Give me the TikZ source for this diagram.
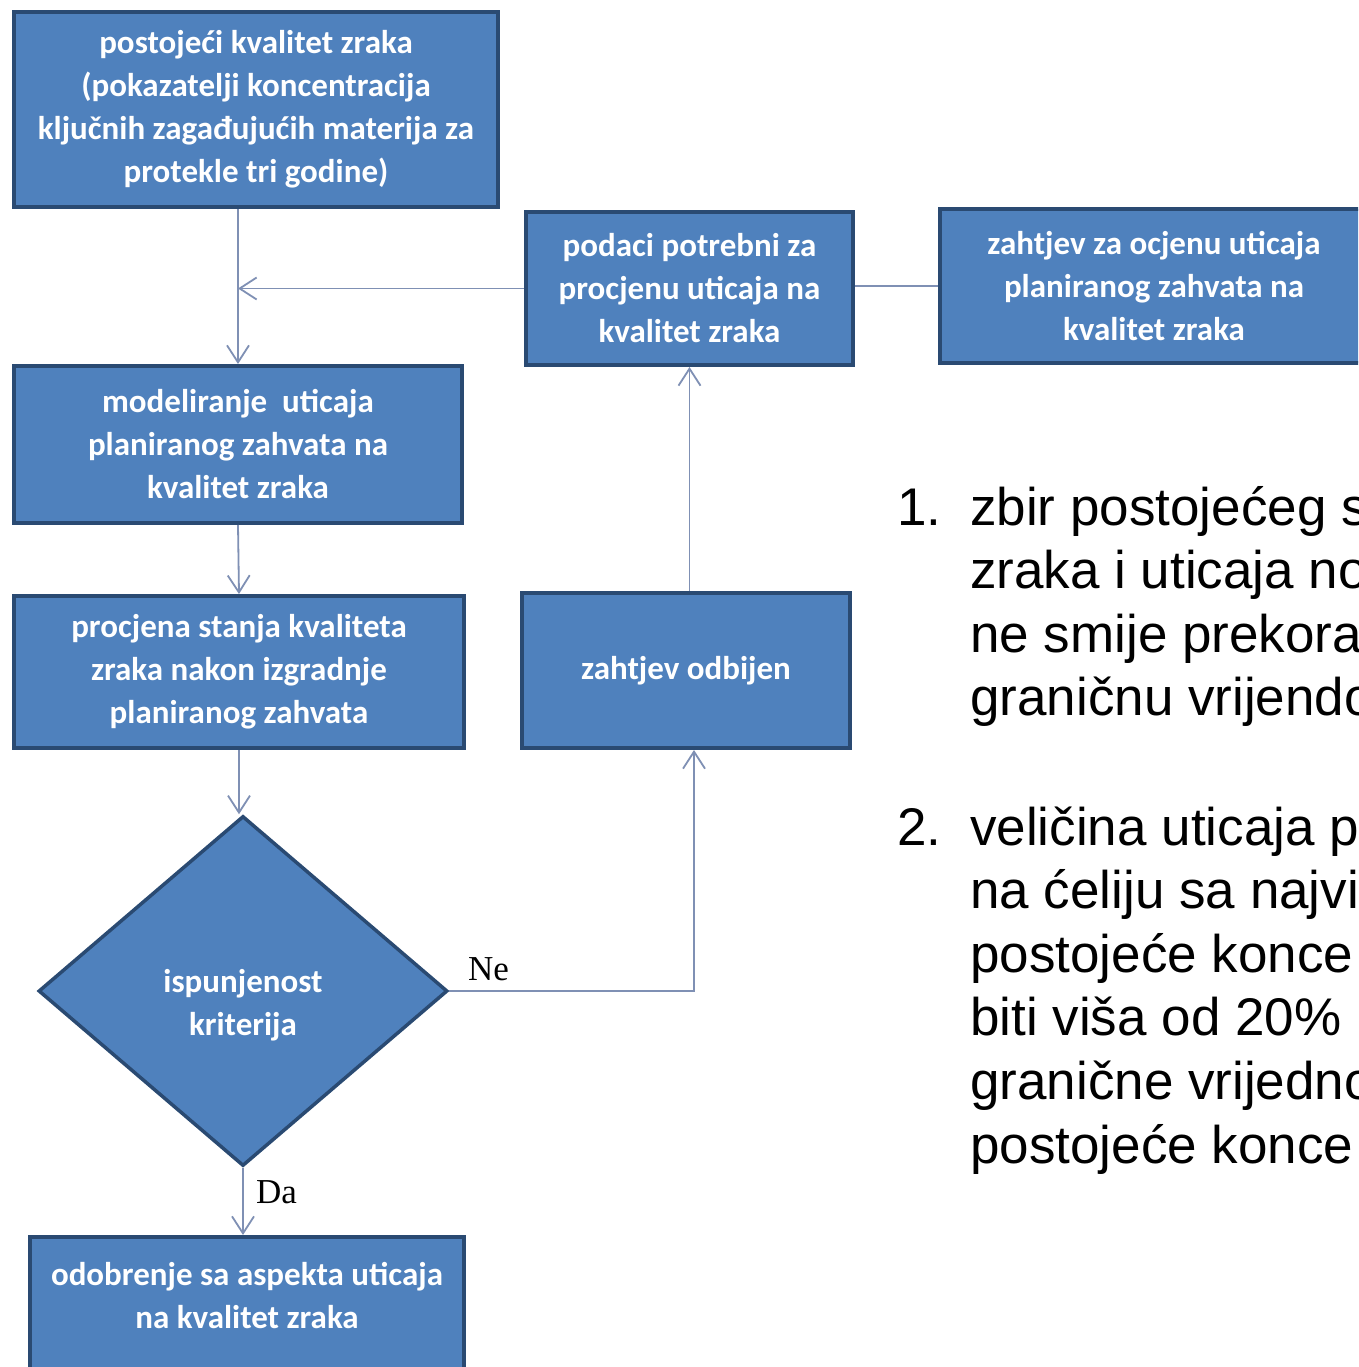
\documentclass[tikz,border=0pt]{standalone}
\usepackage{fontspec}
\newfontfamily\boxfnt{Carlito}
\newfontfamily\arialfnt{Liberation Sans}
\newfontfamily\timesfnt{Liberation Serif}
\usetikzlibrary{arrows.meta,shapes.geometric}
\definecolor{boxfill}{HTML}{4F81BD}
\definecolor{boxline}{HTML}{2A4A72}
\definecolor{linec}{HTML}{7F90B4}
\begin{document}
\begin{tikzpicture}[x=1pt,y=-1pt,
  btext/.style={text=white, font=\boxfnt\bfseries\fontsize{33}{43}\selectfont, align=center, inner sep=0pt},
  box/.style={btext, rectangle, draw=boxline, fill=boxfill, line width=4pt},
  conn/.style={draw=linec, line width=1.8pt},
  arr/.style={conn, -{Straight Barb[length=17pt,width=22pt]}},
  rtext/.style={font=\arialfnt\fontsize{53}{64}\selectfont, anchor=base west, inner sep=0pt},
  lbl/.style={font=\timesfnt\fontsize{35}{40}\selectfont, anchor=base west, inner sep=0pt}]
\useasboundingbox (0,0) rectangle (1358,1367);
\clip (0,0) rectangle (1358,1367);
\fill[white] (0,0) rectangle (1358,1367);

% boxes
\node[box, minimum width=484pt, minimum height=195pt] (A) at (256,109.5)
  {postojeći kvalitet zraka\\(pokazatelji koncentracija\\ključnih zagađujućih materija za\\protekle tri godine)};
\node[box, minimum width=327pt, minimum height=153pt] (B) at (689.5,288.5)
  {podaci potrebni za\\procjenu uticaja na\\kvalitet zraka};
\node[box, minimum width=428pt, minimum height=154pt] (C) at (1154,286)
  {zahtjev za ocjenu uticaja\\planiranog zahvata na\\kvalitet zraka};
\node[box, minimum width=448pt, minimum height=157pt] (D) at (238,444.5)
  {modeliranje\ \ uticaja\\planiranog zahvata na\\kvalitet zraka};
\node[box, minimum width=450pt, minimum height=152pt] (E) at (239,672)
  {procjena stanja kvaliteta\\zraka nakon izgradnje\\planiranog zahvata};
\node[box, minimum width=328pt, minimum height=155pt] (F) at (686,670.5)
  {zahtjev odbijen};
\node[box, minimum width=434pt, minimum height=158pt] (G) at (247,1316) {};
\node[btext] (Gt) at (247,1296) {odobrenje sa aspekta uticaja\\na kvalitet zraka};

% decision
\node[diamond, draw=boxline, fill=boxfill, line width=3.5pt, inner sep=0pt,
      minimum width=409pt, minimum height=350pt] (Q) at (243,991) {};
\node[btext] (Qt) at (243,1005) {ispunjenost\\kriterija};

% connectors
\coordinate (fb) at (694,750);
\draw[arr] (D.north |- A.south) -- (D.north);
\draw[arr] (B.west) -- (B.west -| D.north);
\draw[conn] (C.west) -- (C.west -| B.east);
\draw[arr] (D.south) -- (E.north);
\draw[arr] (E.south) -- (E.south |- Q.north);
\draw[arr] (Q.east) -| (fb);
\draw[arr] (F.north -| B.south) -- (B.south);
\draw[arr] (Q.south) -- (Q.south |- G.north);

% labels
\node[lbl] (ne) at (468,980) {Ne};
\node[lbl] (da) at (256,1203) {Da};

% right text
\node[rtext] (n1) at (897,525) {1.};
\node[rtext] (t1a) at (970,525) {zbir postojećeg s};
\node[rtext] (t1b) at (970,588.5) {zraka i uticaja no};
\node[rtext] (t1c) at (970,652) {ne smije prekora};
\node[rtext] (t1d) at (970,715.5) {graničnu vrijendo};
\node[rtext] (n2) at (897,845) {2.};
\node[rtext] (t2a) at (970,845) {veličina uticaja p};
\node[rtext] (t2b) at (970,908.6) {na ćeliju sa najvi};
\node[rtext] (t2c) at (970,972) {postojeće konce};
\node[rtext] (t2d) at (970,1035.8) {biti viša od 20\%};
\node[rtext] (t2e) at (970,1099.4) {granične vrijedno};
\node[rtext] (t2f) at (970,1163) {postojeće konce};
\end{tikzpicture}
\end{document}
